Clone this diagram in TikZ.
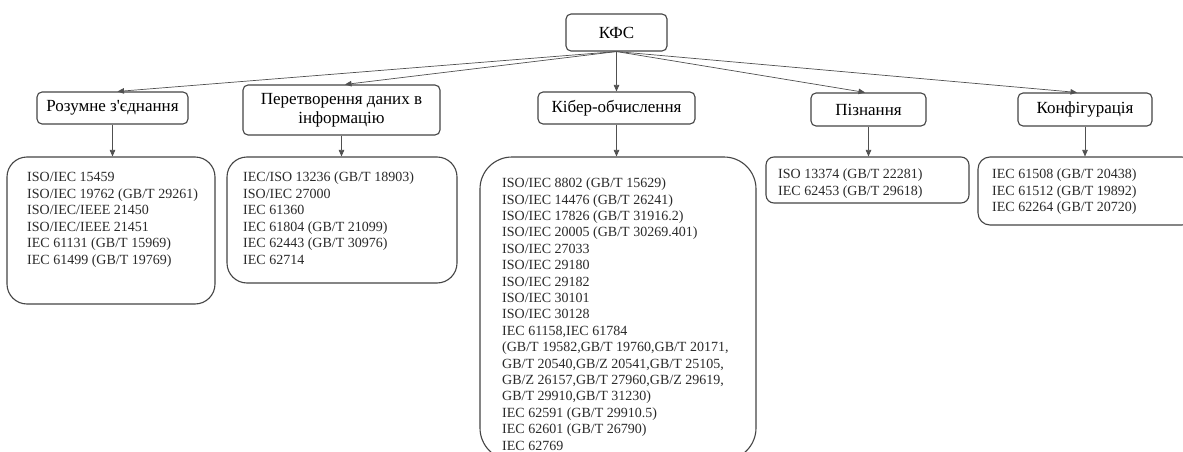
\documentclass[tikz,border=0pt]{standalone}
\usepackage{fontspec}
\setmainfont{Liberation Serif}
\usetikzlibrary{arrows.meta}
\definecolor{boxc}{HTML}{454545}
\definecolor{linec}{HTML}{505050}
\definecolor{txtc}{HTML}{2A2A2A}
\begin{document}
\begin{tikzpicture}[x=1pt,y=-1pt,
  topbox/.style={draw=boxc, line width=1.1pt, rounded corners=5pt, inner sep=0pt,
    font=\fontsize{17}{19}\selectfont, align=center, text=black},
  listbox/.style={draw=boxc, line width=1.1pt, inner sep=0pt},
  listtext/.style={anchor=north west, inner sep=0pt, align=left,
    font=\fontsize{14}{16.5}\selectfont, text=txtc},
  conn/.style={draw=linec, line width=0.7pt, -{Triangle[length=6.5pt,width=5.5pt]}}]
\useasboundingbox (0,0) rectangle (1183,452);
\clip (0,0) rectangle (1183,452);
\fill[white] (0,0) rectangle (1183,452);

% root
\node[topbox, minimum width=101pt, minimum height=37pt] (root) at (616.5,32.5) {КФС};

% second level
\node[topbox, minimum width=151pt, minimum height=32pt] (a) at (112.5,108) {Розумне з\textquotesingle єднання};
\node[topbox, minimum width=197pt, minimum height=50pt] (b) at (341.5,110) {Перетворення даних в\\інформацію};
\node[topbox, minimum width=157pt, minimum height=32pt] (c) at (616.5,108) {Кібер-обчислення};
\node[topbox, minimum width=115pt, minimum height=33pt] (d) at (868.5,109.5) {Пізнання};
\node[topbox, minimum width=134pt, minimum height=33pt] (e) at (1085,109.5) {Конфігурація};

% list boxes
\node[listbox, rounded corners=20pt, minimum width=208pt, minimum height=147pt] (la) at (111,230.5) {};
\node[listbox, rounded corners=20pt, minimum width=230pt, minimum height=126pt] (lb) at (342,220) {};
\node[listbox, rounded corners=32pt, minimum width=276pt, minimum height=303pt] (lc) at (618,308.5) {};
\node[listbox, rounded corners=8pt, minimum width=203pt, minimum height=46pt] (ld) at (867.5,180) {};
\node[listbox, rounded corners=12pt, minimum width=216pt, minimum height=68pt] (le) at (1086,191) {};

% list texts
\node[listtext] (ta) at (27,170) {\strut ISO/IEC 15459\\ISO/IEC 19762 (GB/T 29261)\\ISO/IEC/IEEE 21450\\ISO/IEC/IEEE 21451\\IEC 61131 (GB/T 15969)\\IEC 61499 (GB/T 19769)};
\node[listtext] (tb) at (243,170) {\strut IEC/ISO 13236 (GB/T 18903)\\ISO/IEC 27000\\IEC 61360\\IEC 61804 (GB/T 21099)\\IEC 62443 (GB/T 30976)\\IEC 62714};
\node[listtext, font=\fontsize{14}{16.4}\selectfont] (tc) at (502,176) {\strut ISO/IEC 8802 (GB/T 15629)\\ISO/IEC 14476 (GB/T 26241)\\ISO/IEC 17826 (GB/T 31916.2)\\ISO/IEC 20005 (GB/T 30269.401)\\ISO/IEC 27033\\ISO/IEC 29180\\ISO/IEC 29182\\ISO/IEC 30101\\ISO/IEC 30128\\IEC 61158,IEC 61784\\(GB/T 19582,GB/T 19760,GB/T 20171,\\GB/T 20540,GB/Z 20541,GB/T 25105,\\GB/Z 26157,GB/T 27960,GB/Z 29619,\\GB/T 29910,GB/T 31230)\\IEC 62591 (GB/T 29910.5)\\IEC 62601 (GB/T 26790)\\IEC 62769};
\node[listtext] (td) at (778,167) {\strut ISO 13374 (GB/T 22281)\\IEC 62453 (GB/T 29618)};
\node[listtext] (te) at (992,167) {\strut IEC 61508 (GB/T 20438)\\IEC 61512 (GB/T 19892)\\IEC 62264 (GB/T 20720)};

% connectors from root
\draw[conn] (root.south) -- ([xshift=5pt]a.north);
\draw[conn] (root.south) -- ([xshift=3.5pt]b.north);
\draw[conn] (root.south) -- (c.north);
\draw[conn] (root.south) -- ([xshift=-3.5pt]d.north);
\draw[conn] (root.south) -- ([xshift=-8pt]e.north);

% connectors down to lists
\draw[conn] (a.south) -- (a.south |- la.north);
\draw[conn] (b.south) -- (b.south |- lb.north);
\draw[conn] (c.south) -- (c.south |- lc.north);
\draw[conn] (d.south) -- (d.south |- ld.north);
\draw[conn] (e.south) -- (e.south |- le.north);
\end{tikzpicture}
\end{document}
